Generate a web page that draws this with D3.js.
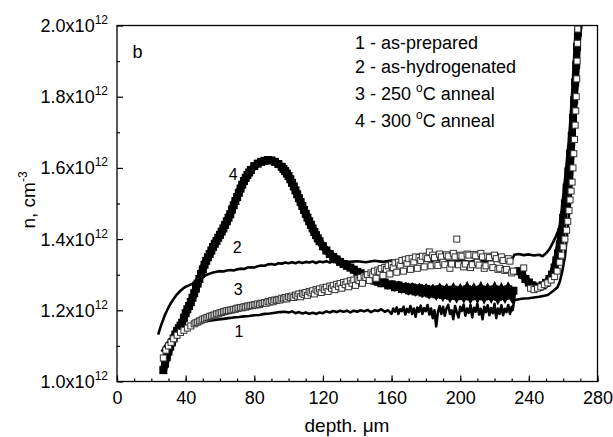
<!DOCTYPE html>
<html>
<head>
<meta charset="utf-8">
<script src="https://cdn.jsdelivr.net/npm/d3@7"></script>
<style>
  body { margin: 0; background: #fff; }
  text { font-family: "Liberation Sans", Arial, sans-serif; fill: #000; }
</style>
</head>
<body>
<div id="depth-chart"></div>
<script>
// tick values (depth in um, n in units of 1e12 cm^-3)
const xTicks = [ 0, 40, 80, 120, 160, 200, 240, 280 ];
const xMinorTicks = d3.range( 0, 281, 10 );
const yTicks = [ 1.0, 1.2, 1.4, 1.6, 1.8, 2.0 ];
const yMinorTicks = [ 1.1, 1.3, 1.5, 1.7, 1.9 ];

const legendLines = [ "1 - as-prepared", "2 - as-hydrogenated", "3 - 250 °C anneal", "4 - 300 °C anneal" ];
const curveLabels = [ "1", "2", "3", "4" ];

// 1 - as-prepared (line)
const asPrepared = [
  [26,1.084],[28,1.10],[30,1.113],[32,1.122],[34,1.128],[36,1.133],[38,1.14],[40,1.147],[42,1.153],[44,1.158],
  [46,1.162],[48,1.165],[50,1.168],[53,1.17],[56,1.172],[59,1.174],[62,1.176],[65,1.178],[68,1.18],[71,1.181],
  [74,1.183],[77,1.184],[80,1.186],[83,1.187],[86,1.19],[89,1.191],[92,1.193],[95,1.195],[98,1.196],[100,1.194],
  [102,1.197],[104,1.192],[106,1.195],[108,1.191],[110,1.194],[112,1.19],[114,1.193],[116,1.19],[118,1.194],[120,1.192],
  [122,1.197],[124,1.194],[126,1.198],[128,1.195],[130,1.199],[132,1.196],[134,1.199],[136,1.194],[138,1.199],[140,1.196],
  [142,1.2],[144,1.197],[146,1.201],[148,1.195],[150,1.2],[152,1.198],[154,1.203],[156,1.196],[158,1.2],
  [160,1.19],[161,1.205],[162,1.196],[163,1.208],[164,1.19],[165,1.203],[166,1.198],[167,1.21],[168,1.188],[169,1.204],
  [170,1.195],[171,1.212],[172,1.19],[173,1.205],[174,1.182],[175,1.208],[176,1.196],[177,1.213],[178,1.19],[179,1.206],
  [180,1.198],[181,1.215],[182,1.188],[183,1.205],[184,1.178],[185,1.2],[186,1.155],[187,1.195],[188,1.212],[189,1.19],
  [190,1.21],[191,1.185],[192,1.205],[193,1.215],[194,1.19],[195,1.2],[196,1.175],[197,1.212],[198,1.195],[199,1.18],
  [200,1.21],[201,1.198],[202,1.216],[203,1.185],[204,1.205],[205,1.193],[206,1.215],[207,1.18],[208,1.207],[209,1.196],
  [210,1.218],[211,1.188],[212,1.204],[213,1.175],[214,1.21],[215,1.195],[216,1.214],[217,1.186],[218,1.206],[219,1.192],
  [220,1.218],[221,1.178],[222,1.205],[223,1.19],[224,1.214],[225,1.186],[226,1.204],[227,1.195],[228,1.215],[229,1.19],
  [230,1.21],[230.5,1.2],[231.5,1.228],[234,1.231],[237,1.233],
  [240,1.234],[243,1.236],[246,1.238],[249,1.241],[251,1.243],[253,1.25],[255,1.258],[256.7,1.265],[258,1.28],[259.5,1.31],
  [261,1.35],[262,1.4],[263,1.45],[264,1.5],[265,1.56],[266,1.64],[267,1.73],[268,1.83],[268.7,1.92],[269.2,2.0]
];

// 2 - as-hydrogenated (line)
const asHydrogenated = [
  [24,1.132],[25,1.148],[26,1.162],[27,1.175],[28,1.188],[29,1.198],[30,1.208],[31,1.217],[32,1.225],[33,1.232],
  [34,1.239],[35,1.245],[36,1.25],[37,1.255],[38,1.259],[39,1.263],[40,1.266],[42,1.27],[44,1.275],[46,1.282],
  [48,1.288],[50,1.294],[52,1.299],[54,1.303],[56,1.306],[58,1.308],[60,1.31],[62,1.309],[64,1.312],[66,1.313],
  [68,1.312],[70,1.315],[72,1.317],[74,1.316],[76,1.32],[78,1.321],[80,1.32],[82,1.324],[84,1.326],[86,1.325],
  [88,1.329],[90,1.33],[92,1.328],[94,1.332],[96,1.331],[98,1.334],[100,1.332],[102,1.335],[104,1.332],[106,1.336],
  [108,1.333],[110,1.336],[112,1.334],[114,1.337],[116,1.333],[118,1.337],[120,1.335],[122,1.338],[124,1.334],[126,1.338],
  [128,1.336],[130,1.339],[135,1.336],[140,1.338],[145,1.335],[150,1.339],[155,1.336],[160,1.34],[165,1.337],[170,1.341],
  [175,1.337],[180,1.34],[185,1.336],[190,1.34],[195,1.337],[200,1.341],[205,1.336],[210,1.34],[215,1.337],[220,1.341],
  [225,1.336],[230,1.34],[231.5,1.356],[234,1.358],[237,1.355],[240,1.357],[243,1.354],[246,1.356],[248,1.352],[250,1.36],
  [252,1.372],[254,1.39],[256,1.41],[258,1.435],[259.5,1.46],[261,1.51],[262,1.55],[263,1.595],[264,1.645],[265,1.695],
  [266,1.76],[267,1.83],[268,1.91],[268.7,1.97],[269,2.0]
];

// 3 - 250 C anneal (open squares)
const anneal250 = [
  [27,1.066],[28.5,1.088],[30,1.1],[31.5,1.11],[33,1.12],[35,1.13],[37,1.138],[39,1.144],[41,1.15],[43,1.156],
  [45,1.162],[46,1.165],[47,1.167],[48,1.17],[49,1.172],[50,1.175],[51,1.176],[52,1.179],[53,1.18],[54,1.183],
  [55,1.184],[56,1.186],[57,1.187],[58,1.19],[59,1.19],[60,1.193],[61,1.194],[62,1.196],[63,1.197],[64,1.199],
  [65,1.199],[66,1.201],[67,1.201],[68,1.203],[69,1.203],[70,1.206],[71,1.206],[72,1.208],[73,1.207],[74,1.21],
  [75,1.209],[76,1.212],[77,1.212],[78,1.214],[79,1.213],[80,1.216],[81,1.215],[82,1.218],[83,1.216],[84,1.22],
  [85,1.219],[86,1.222],[87,1.22],[88,1.225],[89,1.223],[90,1.227],[91,1.224],[92,1.229],[93,1.228],[94,1.231],
  [95,1.229],[96,1.234],[97,1.232],[98,1.236],[99,1.232],[100,1.238],[101,1.236],[102,1.24],[103,1.236],[104,1.243],
  [105,1.24],[106,1.246],[107,1.238],[108,1.248],[109,1.245],[110,1.25],[111,1.242],[112,1.253],[113,1.249],[114,1.255],
  [115,1.246],[116,1.258],[117,1.254],[118,1.26],[119,1.25],[120,1.263],[121,1.258],[122,1.265],[123,1.253],[124,1.268],
  [125,1.262],[126,1.27],[127,1.258],[128,1.273],[129,1.267],[130,1.275],[131,1.262],[132,1.278],[133,1.272],[134,1.28],
  [135,1.266],[136,1.283],[137,1.276],[138,1.285],[139,1.27],[140,1.288],[141,1.283],[142,1.292],[143,1.276],[144,1.296],
  [145,1.292],[146,1.3],[147,1.284],[148,1.305],[149,1.3],[150,1.31],[151,1.29],[152,1.313],[153,1.308],[154,1.317],
  [155,1.298],[156,1.32],[157,1.315],[158,1.325],[159,1.302],[160,1.328],[161,1.32],[162,1.333],[163,1.307],[164,1.335],
  [165,1.327],[166,1.34],[167,1.31],[168,1.342],[169,1.332],[170,1.345],[171,1.315],[172,1.346],[173,1.336],[174,1.35],
  [175,1.318],[176,1.348],[177,1.34],[178,1.352],[179,1.322],[180,1.35],[181,1.345],[182,1.364],[183,1.325],[184,1.355],
  [185,1.348],[186,1.33],[187,1.326],[188,1.358],[189,1.35],[190,1.335],[191,1.328],[192,1.356],[193,1.352],[194,1.318],
  [195,1.33],[196,1.36],[197,1.35],[198,1.40],[199,1.328],[200,1.355],[201,1.352],[202,1.322],[203,1.33],[204,1.358],
  [205,1.355],[206,1.32],[207,1.328],[208,1.357],[209,1.353],[210,1.335],[211,1.327],[212,1.36],[213,1.35],[214,1.318],
  [215,1.325],[216,1.352],[217,1.348],[218,1.33],[219,1.32],[220,1.355],[221,1.345],[222,1.315],[223,1.318],[224,1.35],
  [225,1.34],[226,1.312],[227,1.315],[228,1.345],[229,1.338],[230,1.305],[231,1.31],
  [237,1.319],[241,1.262],[243,1.258],[245,1.262],[247,1.266],[249,1.272],[251,1.277],[253,1.285],[255,1.295],[256.5,1.31],
  [258,1.335],[259,1.355],[260,1.378],[261,1.40],[262,1.425],[262.7,1.45],[263.4,1.48],[264,1.51],[264.6,1.535],[265.2,1.56],
  [265.7,1.6],[266.2,1.64],[266.6,1.68],[267,1.72],[267.3,1.76],[267.6,1.8],[267.9,1.85],[268.1,1.9],[268.3,1.95],[268.5,1.99]
];

// 4 - 300 C anneal (filled squares), null = gap in the measurement
const anneal300 = [
  [27,1.032],[28,1.05],[29,1.068],[30,1.084],[31,1.098],[32,1.11],[33,1.121],[34,1.132],[35,1.142],[36,1.15],
  [37,1.157],[38,1.165],[39,1.179],[40,1.192],[41,1.203],[42,1.212],[43,1.223],[44,1.235],[45,1.248],[46,1.261],
  [47,1.275],[48,1.288],[49,1.302],[50,1.315],[51,1.328],[52,1.339],[53,1.349],[54,1.358],[55,1.368],[56,1.378],
  [57,1.387],[58,1.395],[59,1.404],[60,1.412],[61,1.421],[62,1.43],[63,1.44],[64,1.45],[65,1.46],[66,1.47],
  [67,1.483],[68,1.495],[69,1.507],[70,1.518],[71,1.53],[72,1.542],[73,1.553],[74,1.563],[75,1.572],[76,1.58],
  [77,1.587],[78,1.594],[80,1.605],[82,1.612],[84,1.617],[86,1.62],[88,1.622],[90,1.621],[92,1.617],[94,1.611],
  [96,1.603],[97,1.597],[98,1.591],[99,1.584],[100,1.577],[101,1.568],[102,1.558],[103,1.548],[104,1.537],[105,1.526],
  [106,1.515],[107,1.504],[108,1.493],[109,1.482],[110,1.471],[111,1.46],[112,1.45],[113,1.44],[114,1.43],[115,1.42],
  [116,1.411],[117,1.402],[118,1.394],[120,1.38],[122,1.368],[124,1.358],[126,1.35],[128,1.343],[130,1.336],[132,1.33],
  [134,1.325],[136,1.32],[138,1.314],[140,1.308],[142,1.304],[144,1.298],[146,1.294],[148,1.29],[150,1.283],[152,1.28],
  [154,1.276],[156,1.278],[158,1.27],[160,1.273],[162,1.265],[164,1.27],[166,1.26],[168,1.266],[170,1.256],[172,1.264],
  [174,1.253],[176,1.262],[178,1.25],[180,1.26],[182,1.247],[184,1.258],[186,1.245],[188,1.259],[190,1.243],[192,1.257],
  [194,1.241],[196,1.258],[198,1.24],[200,1.256],[202,1.24],[204,1.259],[206,1.239],[208,1.257],[210,1.24],[212,1.259],
  [214,1.239],[216,1.257],[218,1.24],[220,1.259],[222,1.238],[224,1.257],[226,1.24],[228,1.259],[230,1.242],[231,1.255],
  [232,null],
  [234,1.31],[236,1.3],[238,1.288],[240,1.278],[242,1.27],[244,1.266],[246,1.266],[248,1.27],[250,1.277],[252,1.288],
  [253.5,1.3],[255,1.32],[256,1.34],[257,1.36],[258,1.385],[259,1.42],[260,1.46],[261,1.5],[262,1.545],[263,1.59],
  [264,1.64],[265,1.69],[265.7,1.74],[266.4,1.79],[267,1.84],[267.6,1.89],[268.1,1.94],[268.6,1.98],[268.9,2.0]
];

function drawDepthChart () {
  // Step 1: Set up our chart
  const svgWidth = 613;
  const svgHeight = 437;
  const margin = { top: 25.5, right: 15.5, bottom: 55.5, left: 117 };
  const width = svgWidth - margin.left - margin.right;
  const height = svgHeight - margin.top - margin.bottom;

  const svg = d3.select( "#depth-chart" )
    .append( "svg" )
    .attr( "width", svgWidth )
    .attr( "height", svgHeight );

  const chart = svg.append( "g" )
    .attr( "transform", `translate(${margin.left}, ${margin.top})` );

  // Step 2: scales
  const x = d3.scaleLinear().domain( [ 0, 280 ] ).range( [ 0, width ] );
  const y = d3.scaleLinear().domain( [ 1.0, 2.0 ] ).range( [ height, 0 ] );

  chart.append( "clipPath" ).attr( "id", "plot-clip" )
    .append( "rect" ).attr( "width", width ).attr( "height", height );

  // Step 3: axes, ticks point inward
  chart.append( "g" )
    .attr( "transform", `translate(0, ${height})` )
    .call( d3.axisBottom( x ).tickValues( xMinorTicks ).tickSize( -3 ).tickFormat( "" ) );
  chart.append( "g" )
    .attr( "transform", `translate(0, ${height})` )
    .call( d3.axisBottom( x ).tickValues( xTicks ).tickSize( -6 ).tickPadding( 9.5 ) )
    .selectAll( "text" ).style( "font-size", "18px" );
  chart.append( "g" )
    .call( d3.axisLeft( y ).tickValues( yMinorTicks ).tickSize( -3 ).tickFormat( "" ) );
  chart.append( "g" )
    .call( d3.axisLeft( y ).tickValues( yTicks ).tickSize( -6 ).tickFormat( "" ) );
  chart.selectAll( ".domain" ).remove();
  chart.selectAll( ".tick line" ).attr( "stroke", "#000" ).attr( "stroke-width", 1.2 );
  chart.selectAll( ".tick text" ).attr( "font-family", null );

  // y tick labels like 1.0x10^12
  const yLab = chart.selectAll( ".ylab" )
    .data( yTicks )
    .enter()
    .append( "text" )
    .attr( "x", -9 )
    .attr( "y", d => y( d ) + 6.5 )
    .attr( "text-anchor", "end" )
    .style( "font-size", "18px" );
  yLab.append( "tspan" ).text( d => `${d.toFixed( 1 )}x10` );
  yLab.append( "tspan" ).attr( "dy", -8 ).style( "font-size", "12px" ).text( "12" );

  // frame
  chart.append( "rect" )
    .attr( "width", width )
    .attr( "height", height )
    .attr( "fill", "none" )
    .attr( "stroke", "#000" )
    .attr( "stroke-width", 1.3 );

  // Step 4: the curves
  const plot = chart.append( "g" ).attr( "clip-path", "url(#plot-clip)" );
  const line = d3.line()
    .defined( d => d[ 1 ] !== null )
    .x( d => x( d[ 0 ] ) )
    .y( d => y( d[ 1 ] ) );

  // 4 - filled squares
  plot.append( "path" )
    .datum( anneal300 )
    .attr( "d", line )
    .attr( "fill", "none" )
    .attr( "stroke", "#000" )
    .attr( "stroke-width", 7.5 );
  plot.selectAll( ".sq4" )
    .data( anneal300.filter( d => d[ 1 ] !== null ) )
    .enter()
    .append( "rect" )
    .attr( "x", d => x( d[ 0 ] ) - 4 )
    .attr( "y", d => y( d[ 1 ] ) - 4 )
    .attr( "width", 8 )
    .attr( "height", 8 )
    .attr( "fill", "#000" );

  // 2 and 1 - lines
  [ asHydrogenated, asPrepared ].forEach( series => {
    plot.append( "path" )
      .datum( series )
      .attr( "d", line )
      .attr( "fill", "none" )
      .attr( "stroke", "#000" )
      .attr( "stroke-width", 2.6 )
      .attr( "stroke-linejoin", "round" );
  } );

  // 3 - open squares
  plot.selectAll( ".sq3" )
    .data( anneal250 )
    .enter()
    .append( "rect" )
    .attr( "x", d => x( d[ 0 ] ) - 3 )
    .attr( "y", d => y( d[ 1 ] ) - 3 )
    .attr( "width", 6 )
    .attr( "height", 6 )
    .attr( "fill", "#fff" )
    .attr( "stroke", "#333" )
    .attr( "stroke-width", 1 );

  // Step 5: labels on the curves
  const labelPos = [ [ 71, 1.125 ], [ 70, 1.361 ], [ 70.6, 1.243 ], [ 67.7, 1.566 ] ];
  chart.selectAll( ".curve-label" )
    .data( curveLabels )
    .enter()
    .append( "text" )
    .attr( "x", ( d, i ) => x( labelPos[ i ][ 0 ] ) )
    .attr( "y", ( d, i ) => y( labelPos[ i ][ 1 ] ) )
    .attr( "text-anchor", "middle" )
    .style( "font-size", "16px" )
    .text( d => d );

  chart.append( "text" )
    .attr( "x", x( 9 ) )
    .attr( "y", y( 1.908 ) )
    .style( "font-size", "18px" )
    .text( "b" );

  // Step 6: legend text
  const legend = chart.selectAll( ".legend" )
    .data( legendLines )
    .enter()
    .append( "text" )
    .attr( "x", 238 )
    .attr( "y", ( d, i ) => [ 23.5, 47, 74, 101.5 ][ i ] )
    .style( "font-size", "18px" );
  legend.each( function ( d ) {
    const t = d3.select( this );
    const parts = d.split( "°" );
    t.append( "tspan" ).text( parts[ 0 ] );
    if ( parts.length > 1 ) {
      t.append( "tspan" ).attr( "dy", -8 ).style( "font-size", "12px" ).text( "o" );
      t.append( "tspan" ).attr( "dy", 8 ).text( parts[ 1 ] );
    }
  } );

  // Step 7: axis titles
  svg.append( "text" )
    .attr( "x", 347 )
    .attr( "y", 432 )
    .attr( "text-anchor", "middle" )
    .style( "font-size", "19px" )
    .text( "depth. μm" );

  const yTitle = svg.append( "text" )
    .attr( "transform", "translate(35, 200) rotate(-90)" )
    .attr( "text-anchor", "middle" )
    .style( "font-size", "19px" );
  yTitle.append( "tspan" ).text( "n, cm" );
  yTitle.append( "tspan" ).attr( "dy", -8 ).style( "font-size", "12px" ).text( "-3" );
}

drawDepthChart();
</script>
</body>
</html>
